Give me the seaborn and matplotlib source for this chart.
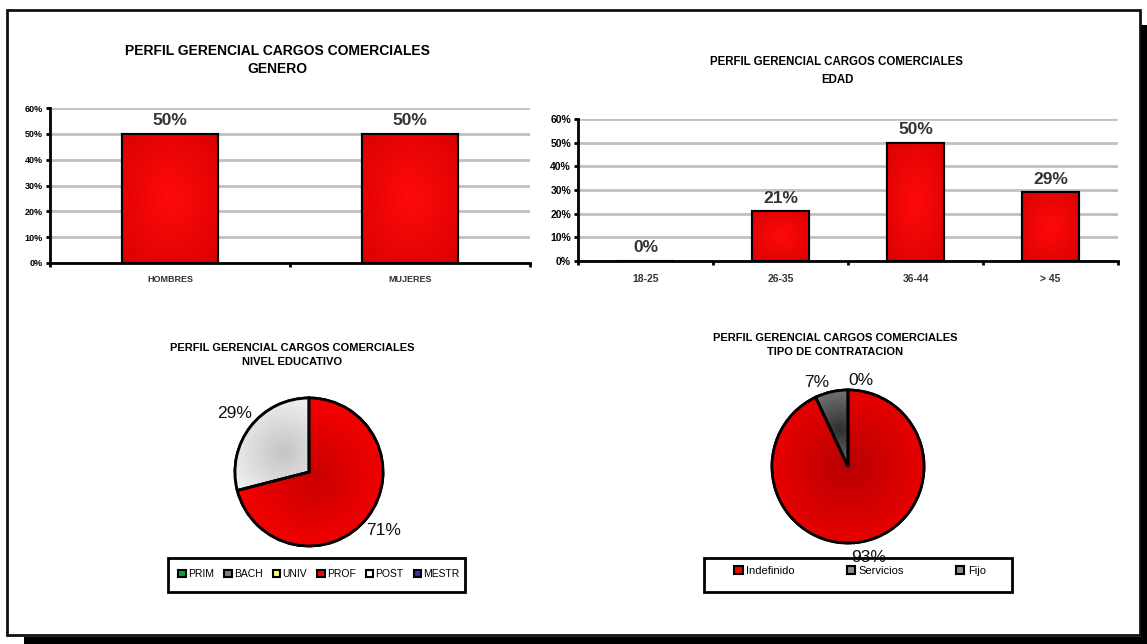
import numpy as np
import matplotlib
matplotlib.use('Agg')
import matplotlib.pyplot as plt
import seaborn as sns
from matplotlib.patches import Patch, Rectangle, Wedge
from matplotlib.colors import LinearSegmentedColormap
from matplotlib.ticker import PercentFormatter, FixedLocator

# ---------------- data ----------------
genero_title = "PERFIL GERENCIAL CARGOS COMERCIALES\nGENERO"
genero_cats = ["HOMBRES", "MUJERES"]
genero_vals = [0.50, 0.50]

edad_title = "PERFIL GERENCIAL CARGOS COMERCIALES\nEDAD"
edad_cats = ["18-25", "26-35", "36-44", "> 45"]
edad_vals = [0.00, 0.21, 0.50, 0.29]

edu_title = "PERFIL GERENCIAL CARGOS COMERCIALES\nNIVEL EDUCATIVO"
edu_cats = ["PRIM", "BACH", "UNIV", "PROF", "POST", "MESTR"]
edu_vals = [0, 0, 0, 71, 29, 0]

contrato_title = "PERFIL GERENCIAL CARGOS COMERCIALES\nTIPO DE CONTRATACION"
contrato_cats = ["Indefinido", "Servicios", "Fijo"]
contrato_vals = [93, 7, 0]

y_ticks = [0.0, 0.1, 0.2, 0.3, 0.4, 0.5, 0.6]

# ---------------- style ----------------
sns.set_theme(style="white")
plt.rcParams["font.family"] = ["Liberation Sans", "DejaVu Sans"]
plt.rcParams["text.color"] = "black"
plt.rcParams["xtick.color"] = "black"
plt.rcParams["ytick.color"] = "black"

W, H = 1147, 644
fig = plt.figure(figsize=(W / 100, H / 100), dpi=100)


def fbox(l, t, r, b):
    return [l / W, 1 - b / H, (r - l) / W, (b - t) / H]


def fpt(x, y):
    return (x / W, 1 - y / H)


def radial_image(ax, clip_patch, extent, inner, outer, center=(0.5, 0.5), scale=1.0, zorder=2):
    n = 200
    xs = np.linspace(0, 1, n)
    X, Y = np.meshgrid(xs, xs)
    R = np.sqrt((X - center[0]) ** 2 + (Y - center[1]) ** 2) / scale
    R = np.clip(R, 0, 1)
    cmap = LinearSegmentedColormap.from_list("g", [inner, outer])
    im = ax.imshow(R, cmap=cmap, vmin=0, vmax=1, extent=extent, origin="lower",
                   aspect="auto", zorder=zorder, interpolation="bilinear")
    im.set_clip_path(clip_patch)
    return im


def bar_chart(ax, cats, vals, tick_size, xtick_size, xtick_color, bar_width):
    sns.barplot(x=cats, y=vals, ax=ax, color="#FF0000", width=bar_width,
                edgecolor="black", linewidth=1.5, zorder=2)
    ax.set_ylim(0, 0.6)
    ax.set_xlim(-0.5, len(cats) - 0.5)
    ax.yaxis.set_major_locator(FixedLocator(y_ticks))
    ax.yaxis.set_major_formatter(PercentFormatter(1.0, decimals=0))
    ax.yaxis.grid(True, color="#C0C0C0", linewidth=2)
    ax.set_axisbelow(True)
    for s in ["top", "right"]:
        ax.spines[s].set_visible(False)
    for s in ["left", "bottom"]:
        ax.spines[s].set_color("black")
        ax.spines[s].set_linewidth(2)
    ax.tick_params(axis="y", which="major", length=3, width=2, direction="out",
                   labelsize=tick_size, pad=2, left=True, colors="black")
    for lab in ax.get_yticklabels():
        lab.set_fontweight("bold")
    ax.tick_params(axis="x", which="major", length=0, labelsize=xtick_size, pad=9,
                   labelcolor=xtick_color)
    for lab in ax.get_xticklabels():
        lab.set_fontweight("bold")
    ax.set_xticks(np.arange(len(cats) + 1) - 0.5, minor=True)
    ax.tick_params(axis="x", which="minor", length=3, width=2, direction="out", bottom=True)
    ax.set_xlabel("")
    ax.set_ylabel("")
    for bar, v in zip(list(ax.patches), vals):
        x0, y0 = bar.get_x(), bar.get_y()
        w, h = bar.get_width(), bar.get_height()
        if h > 0:
            radial_image(ax, bar, (x0, x0 + w, y0, y0 + h), "#FF0A0A", "#D80000",
                         center=(0.5, 0.5), scale=0.75, zorder=2.1)
            ax.add_patch(Rectangle((x0, y0), w, h, fill=False, edgecolor="black",
                                   linewidth=1.5, zorder=2.2))
        ax.annotate(f"{v:.0%}", (x0 + w / 2, y0 + h), xytext=(0, 4),
                    textcoords="offset points", ha="center", va="bottom",
                    fontsize=12.5, fontweight="bold", color="#333333")
    ax.set_ylim(0, 0.6)
    ax.set_xlim(-0.5, len(cats) - 0.5)


# ---------------- top-left: GENERO ----------------
ax1 = fig.add_axes(fbox(50, 108, 530, 263))
bar_chart(ax1, genero_cats, genero_vals, 6.5, 6.5, "#333333", 0.4)
fig.text(*fpt(277, 60), genero_title, ha="center", va="center", fontsize=10,
         fontweight="bold", linespacing=1.45)

# ---------------- top-right: EDAD ----------------
ax2 = fig.add_axes(fbox(578, 119, 1118, 261))
bar_chart(ax2, edad_cats, edad_vals, 7.5, 7.5, "#333333", 0.42)
fig.text(*fpt(837, 71), edad_title, ha="center", va="center", fontsize=8.3,
         fontweight="bold", linespacing=1.6)


# ---------------- pies ----------------
def pie_chart(ax, vals, colors, grads, label_r, label_ha, show_zero):
    wedges, _ = ax.pie(vals, colors=colors, startangle=90, counterclock=False,
                       wedgeprops=dict(edgecolor="black", linewidth=2))
    ax.set_xlim(-1, 1)
    ax.set_ylim(-1, 1)
    ax.set_aspect("auto")
    ax.axis("off")
    total = float(sum(vals))
    for i, (wd, v) in enumerate(zip(wedges, vals)):
        wd.set_clip_on(False)
        if v > 0 and grads[i] is not None:
            inner, outer, cfrac, sc = grads[i]
            mid = np.deg2rad((wd.theta1 + wd.theta2) / 2)
            c = (0.5 + 0.5 * cfrac * np.cos(mid), 0.5 + 0.5 * cfrac * np.sin(mid))
            radial_image(ax, wd, (-1, 1, -1, 1), inner, outer, center=c, scale=sc, zorder=2)
            ax.add_patch(Wedge(wd.center, wd.r, wd.theta1, wd.theta2, fill=False,
                               edgecolor="black", linewidth=2, zorder=3, clip_on=False))
        if v > 0 or show_zero:
            mid = np.deg2rad((wd.theta1 + wd.theta2) / 2)
            r = label_r[i]
            ax.text(r * np.cos(mid), r * np.sin(mid), f"{v / total:.0%}",
                    ha=label_ha[i], va="center", fontsize=12.5, color="#111111", zorder=5)
    ax.set_xlim(-1, 1)
    ax.set_ylim(-1, 1)


edu_colors = ["#00A040", "#808080", "#FFFF66", "#FF0000", "#F2F2F2", "#333399"]
edu_legend_colors = ["#00A040", "#808080", "#FFFF66", "#FF0000", "#FFFFFF", "#3333AA"]
ax3 = fig.add_axes(fbox(235, 398, 383, 546))
pie_chart(ax3, edu_vals, edu_colors,
          [None, None, None, ("#C80000", "#FF0000", 0.1, 0.62),
           ("#C4C4C4", "#F8F8F8", 0.45, 0.45), None],
          [1.28] * 6, ["center"] * 6, show_zero=False)
fig.text(*fpt(292, 355), edu_title, ha="center", va="center", fontsize=8,
         fontweight="bold", linespacing=1.45)

contrato_colors = ["#FF0000", "#8C8C8C", "#8C8C8C"]
ax4 = fig.add_axes(fbox(772, 390, 924, 543))
pie_chart(ax4, contrato_vals, contrato_colors,
          [("#B80000", "#FF0000", 0.0, 0.75), ("#303030", "#B0B0B0", 0.5, 0.5), None],
          [1.22, 1.12, 1.12], ["center", "right", "left"], show_zero=True)
fig.text(*fpt(835, 345), contrato_title, ha="center", va="center", fontsize=8,
         fontweight="bold", linespacing=1.45)

# ---------------- legends ----------------
edu_handles = [Patch(facecolor=c, edgecolor="black", linewidth=1.5) for c in edu_legend_colors]
fig.legend(edu_handles, edu_cats, loc="center", bbox_to_anchor=fpt(319, 574), ncol=6,
           frameon=False, fontsize=7.5, handlelength=0.75, handleheight=0.75,
           handletextpad=0.2, columnspacing=0.95, borderpad=0)
fig.add_artist(Rectangle(fpt(168, 592), 297 / W, 34 / H, transform=fig.transFigure,
                         fill=False, edgecolor="black", linewidth=2))

con_handles = [Patch(facecolor=c, edgecolor="black", linewidth=1.5)
               for c in ["#FF0000", "#8C8C8C", "#8C8C8C"]]
fig.legend(con_handles, contrato_cats, loc="center", bbox_to_anchor=fpt(860, 571), ncol=3,
           frameon=False, fontsize=8, handlelength=0.75, handleheight=0.75,
           handletextpad=0.3, columnspacing=4.7, borderpad=0)
fig.add_artist(Rectangle(fpt(704, 592), 308 / W, 34 / H, transform=fig.transFigure,
                         fill=False, edgecolor="black", linewidth=2))

# ---------------- outer frame with shadow ----------------
fig.add_artist(Rectangle(fpt(7, 635), (1140 - 7) / W, (635 - 10) / H,
                         transform=fig.transFigure, fill=False, edgecolor="#111111",
                         linewidth=2))
fig.add_artist(Rectangle(fpt(1141, 644), 6 / W, (644 - 25) / H, transform=fig.transFigure,
                         facecolor="black", edgecolor="none"))
fig.add_artist(Rectangle(fpt(24, 644), (1147 - 24) / W, 7 / H, transform=fig.transFigure,
                         facecolor="black", edgecolor="none"))

fig.savefig("out.png", dpi=100, facecolor="white")
